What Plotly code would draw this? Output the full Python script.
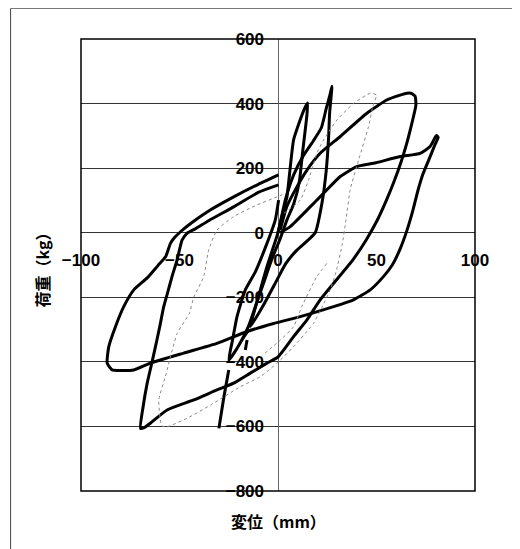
import plotly.graph_objects as go

# ---------------- data (displacement mm, load kg) ----------------
x_ticks = [-100, -50, 0, 50, 100]
y_ticks = [-800, -600, -400, -200, 0, 200, 400, 600]

# large cycle reaching +80 mm
loop_b_x = [0.3, -10, -22.5, -35, -44, -49.5, -52.5, -54.6, -57, -61, -66.4, -73.2, -78.3, -82.5,
            -85.9, -86.7, -84.2, -80, -73.2, -64.8, -47.9, -31, -15.7, -2.2, 11.3, 28.2, 38.3, 46.8,
            53.5, 58, 62, 65.5, 68.5, 71, 73.5, 76.5, 79.5, 81.3, 80.4, 77.2, 72.1, 62, 48.5, 40,
            31.6, 23.1, 14.7, 6.2, 1.1]
loop_b_y = [179, 150, 111, 68, 30, 3, -15, -33, -74, -102, -140, -177, -229, -291,
            -353, -404, -425, -427, -425, -404, -373, -343, -306, -281, -260, -229, -208, -177,
            -136, -100, -50, 8, 70, 130, 180, 225, 270, 295, 301, 267, 246, 236, 215, 205,
            174, 122, 70, 19, 0]

# large cycle reaching +70 mm
loop_a_x = [0.3, -10, -22.5, -35, -42, -46.2, -48.7, -51.2, -53.8, -56, -58, -60, -62.2, -64.3,
            -66.4, -68.5, -69.8, -68, -64.8, -56.3, -42.8, -31, -22.5, -14.1, -5.6, 0, 7.9, 14.7,
            21.4, 28.2, 38, 45, 50.5, 55, 59, 62.5, 65.5, 68, 70, 69.6, 67.5, 65.4, 62, 55.2, 45.1,
            31.6, 21.4, 14.7, 9.6, 4.5, 1.1]
loop_a_y = [148, 125, 80, 38, 12, -2, -23, -84, -136, -185, -229, -290, -353, -410,
            -466, -540, -606, -604, -590, -549, -518, -487, -466, -435, -404, -385, -322, -270,
            -208, -157, -84, -20, 40, 100, 160, 220, 280, 340, 395, 423, 432, 432, 426, 411, 370,
            298, 246, 194, 142, 81, 8]

# small cycle (+15 mm / -25 mm)
loop_c1_x = [0, 2, 4.5, 6, 7.9, 11, 13.5, 15, 14.7, 12.5, 10.8, 8, 4.5, 1, -3, -7, -11, -15, -20,
             -25, -23, -20.8, -16.6, -11.5, -5.6, -1.4, 0.3]
loop_c1_y = [0, 50, 110, 190, 287, 345, 385, 402, 366, 250, 157, 90, 39, -20, -80, -150, -220,
             -290, -350, -395, -330, -260, -177, -121, -33, 39, 101]

# small cycle (+28 mm)
loop_c2_x = [-14, -10, -5.6, 0, 3.7, 8, 13, 18, 22, 24.5, 26.5, 27.4, 26.2, 25.7, 24.5, 22.3,
             18.9, 14, 9.6, 4, -0.5, -7, -14]
loop_c2_y = [-291, -200, -105, 0, 101, 180, 240, 285, 325, 385, 430, 454, 370, 297, 194, 91,
             0, -30, -54, -95, -146, -220, -291]

# short strokes
stroke1_x = [-25, -20, -15]
stroke1_y = [-395, -350, -306]
stroke2_x = [-15.7, -16.6]
stroke2_y = [-332, -363]
stroke3_x = [-25, -27.5, -30]
stroke3_y = [-425, -510, -606]

# grey dotted cycle
gray_x = [3, 11.3, 15.5, 19.7, 23.1, 29.9, 38.3, 46.8, 50.1, 48.5, 45.9, 40.9, 36.6, 34.5, 32.5,
          29.5, 26.5, 22, 18, 7.9, -0.5, -9, -19.1, -34.3, -46.2, -56.3, -59, -60.5, -57.2,
          -51.2, -45, -42.8, -37.7, -35.2, -31, -22.5, -10.7, -0.5, 3]
gray_y = [60, 101, 163, 246, 287, 349, 400, 432, 426, 400, 328, 225, 132, 40, -40,
          -120, -177, -235, -281, -353, -404, -446, -477, -534, -575, -601, -598, -518, -446,
          -312, -250, -200, -136, -54, 8, 50, 86, 111, 120]
gray2_x = [24.8, 19.7, 12, 7.9, 1.1, -8]
gray2_y = [-95, -136, -230, -291, -333, -380]

# ---------------- figure ----------------
fig = go.Figure()

black_sets = [(loop_b_x, loop_b_y), (loop_a_x, loop_a_y), (loop_c1_x, loop_c1_y),
              (loop_c2_x, loop_c2_y), (stroke1_x, stroke1_y), (stroke2_x, stroke2_y),
              (stroke3_x, stroke3_y)]
widths = [3, 3, 3, 3, 1.5, 3, 3]
for (xs, ys), w in zip(black_sets, widths):
    fig.add_trace(go.Scatter(x=xs, y=ys, mode="lines",
                             line=dict(color="black", width=w, shape="spline", smoothing=0.5),
                             showlegend=False, hoverinfo="skip"))

for xs, ys in [(gray_x, gray_y), (gray2_x, gray2_y)]:
    fig.add_trace(go.Scatter(x=xs, y=ys, mode="lines",
                             line=dict(color="#8a8a8a", width=1, dash="dot", shape="spline", smoothing=0.5),
                             showlegend=False, hoverinfo="skip"))

tick_font = dict(family="Liberation Sans, Arial, sans-serif", size=17, color="black", weight="bold")
title_font = dict(family="Noto Sans CJK JP", size=16, color="black", weight="bold")

# the page adds an 8px body margin, so the figure is drawn 8px smaller and shifted
fig.update_layout(
    width=512, height=541, autosize=False,
    margin=dict(l=73, r=44.5, t=31, b=58),
    paper_bgcolor="white", plot_bgcolor="white",
    xaxis=dict(range=[-100, 100], tickvals=x_ticks, showgrid=False,
               zeroline=True, zerolinecolor="#666", zerolinewidth=1,
               showline=False, anchor="free", position=800 / 1400, ticks="",
               tickfont=tick_font, ticklabelstandoff=15),
    yaxis=dict(range=[-800, 600], tickvals=y_ticks, showgrid=True, gridcolor="#333", gridwidth=1,
               zeroline=True, zerolinecolor="#333", zerolinewidth=1,
               showline=False, anchor="free", position=0.5, ticks="",
               tickfont=tick_font, ticklabelstandoff=14),
    shapes=[
        dict(type="rect", xref="paper", yref="paper", x0=0, x1=1, y0=0, y1=1,
             line=dict(color="black", width=1.5)),
        dict(type="line", xref="paper", yref="paper", x0=-0.1787, x1=-0.1787, y0=-0.2, y1=1.0675,
             line=dict(color="#444", width=1)),
        dict(type="line", xref="paper", yref="paper", x0=-0.1787, x1=1.104, y0=1.0675, y1=1.0675,
             line=dict(color="#777", width=1)),
        dict(type="line", xref="paper", yref="paper", x0=1.104, x1=1.104, y0=-0.2, y1=1.0675,
             line=dict(color="#555", width=1)),
    ],
    annotations=[
        dict(text="荷重（kg）", xref="paper", yref="paper", x=-0.100, y=0.498, showarrow=False,
             textangle=-90, font=title_font, xanchor="center", yanchor="middle"),
        dict(text="変位（mm）", xref="paper", yref="paper", x=0.5006, y=-0.066, showarrow=False,
             font=title_font, xanchor="center", yanchor="middle"),
    ],
)

fig.write_html("out.html")
